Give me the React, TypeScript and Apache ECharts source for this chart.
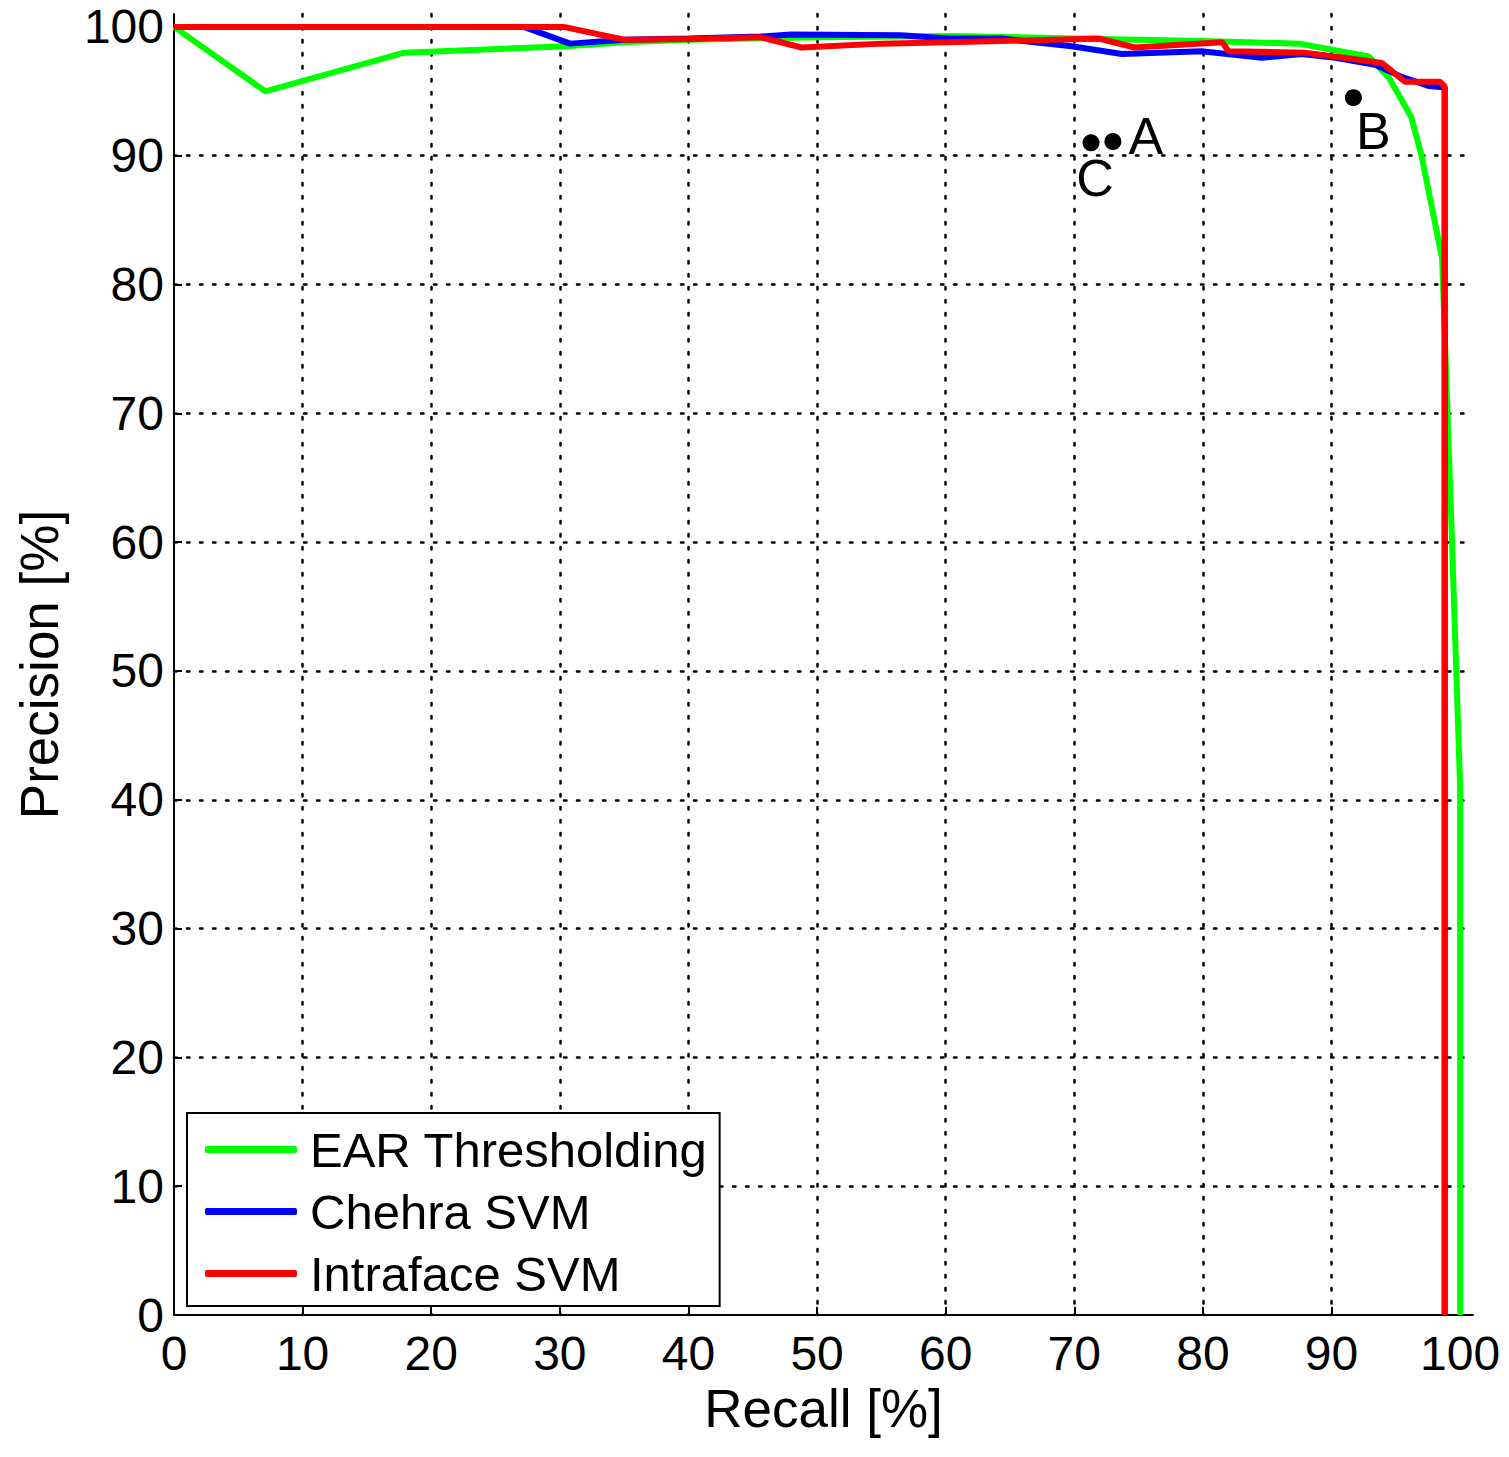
import React, { useEffect, useRef } from "react";
import * as echarts from "echarts";

const tickValues = [0, 10, 20, 30, 40, 50, 60, 70, 80, 90, 100];

const earX = [0, 7.1, 17.9, 30.5, 35, 40, 50, 60.3, 70, 80, 87.5, 92.9, 94.5, 96.2, 97.0, 98.6, 99.3, 100, 100];
const earY = [100, 95, 98, 98.5, 98.8, 99.0, 99.2, 99.3, 99.1, 98.9, 98.7, 97.7, 96.0, 93.0, 90.0, 82, 62, 41, 0];

const chehraX = [0, 27.2, 30.8, 35, 40, 45.6, 48, 56.5, 60.2, 64.3, 69.8, 73.7, 79.9, 84.6, 87.7, 90.3, 93.4, 95.5, 97.6, 98.8, 98.8];
const chehraY = [100, 100, 98.7, 99.0, 99.1, 99.25, 99.4, 99.35, 99.1, 99.1, 98.5, 97.9, 98.1, 97.6, 97.9, 97.6, 97.05, 96.1, 95.4, 95.3, 0];

const intraX = [0, 27, 30.3, 35, 40, 45.6, 48.8, 55, 64.3, 71.9, 74.7, 81.5, 82, 87.9, 91, 93.9, 95.7, 98.4, 98.8, 98.8];
const intraY = [100, 100, 100, 99.0, 99.05, 99.2, 98.4, 98.7, 98.9, 99.1, 98.4, 98.8, 98.1, 98.0, 97.6, 97.2, 95.75, 95.75, 95.4, 0];

const pointNames = ["A", "B", "C"];
const pointX = [73.0, 91.7, 71.3];
const pointY = [91.1, 94.5, 91.0];

const seriesNames = ["EAR Thresholding", "Chehra SVM", "Intraface SVM"];

const FONT = "Liberation Sans, Arial, Helvetica, sans-serif";

function pairs(xs: number[], ys: number[]) {
  return xs.map((x, i) => [x, ys[i]]);
}

export default function App() {
  const ref = useRef<HTMLDivElement>(null);
  useEffect(() => {
    document.body.style.margin = "0";
    if (!ref.current) return;
    const chart = echarts.init(ref.current, undefined, { renderer: "svg" });
    const labelOffsets: Record<string, { position: any; offset: number[] }> = {
      A: { position: "right", offset: [2, -6] },
      B: { position: "bottom", offset: [20, -6] },
      C: { position: "bottom", offset: [4, -4] },
    };
    const axisCommon = {
      type: "value",
      min: 0,
      max: 101,
      interval: 10,
      axisLine: { show: true, onZero: false, lineStyle: { color: "#000", width: 2 } },
      axisTick: { show: true, inside: true, length: 8, lineStyle: { color: "#000", width: 2 }, customValues: tickValues },
      splitLine: {
        show: true,
        showMinLine: false,
        showMaxLine: false,
        lineStyle: { color: "#000", width: 2.5, type: [2.5, 10.5], cap: "round" },
      },
      axisLabel: { color: "#000", fontSize: 48, fontFamily: FONT, customValues: tickValues },
      nameLocation: "middle",
      nameTextStyle: { color: "#000", fontSize: 53, fontFamily: FONT },
    };
    chart.setOption({
      animation: false,
      backgroundColor: "#fff",
      grid: { left: 174, top: 14, right: 36, bottom: 142, containLabel: false },
      xAxis: {
        ...axisCommon,
        name: "Recall [%]",
        nameGap: 60,
        axisLabel: { ...axisCommon.axisLabel, margin: 14 },
      },
      yAxis: {
        ...axisCommon,
        name: "Precision [%]",
        nameGap: 108,
        axisLabel: { ...axisCommon.axisLabel, margin: 10 },
      },
      legend: {
        orient: "vertical",
        left: 187,
        top: 1113,
        backgroundColor: "#fff",
        borderColor: "#000",
        borderWidth: 2,
        padding: [12, 12, 8, 18],
        itemGap: 13,
        itemWidth: 92,
        itemHeight: 7,
        icon: "roundRect",
        textStyle: { color: "#000", fontSize: 49, fontFamily: FONT, padding: [0, 0, 0, 8] },
        data: seriesNames,
        z: 10,
      },
      series: [
        {
          name: seriesNames[0],
          type: "line",
          data: pairs(earX, earY),
          showSymbol: false,
          lineStyle: { color: "#00ff00", width: 6 },
          itemStyle: { color: "#00ff00" },
          z: 2,
        },
        {
          name: seriesNames[1],
          type: "line",
          data: pairs(chehraX, chehraY),
          showSymbol: false,
          lineStyle: { color: "#0000ff", width: 6 },
          itemStyle: { color: "#0000ff" },
          z: 3,
        },
        {
          name: seriesNames[2],
          type: "line",
          data: pairs(intraX, intraY),
          showSymbol: false,
          lineStyle: { color: "#ff0000", width: 6 },
          itemStyle: { color: "#ff0000" },
          z: 4,
        },
        {
          type: "scatter",
          symbolSize: 17,
          itemStyle: { color: "#000", opacity: 1 },
          label: { show: true, color: "#000", opacity: 1, textBorderWidth: 0 },
          data: pointNames.map((n, i) => ({
            value: [pointX[i], pointY[i]],
            name: n,
            label: {
              show: true,
              formatter: n,
              position: labelOffsets[n].position,
              offset: labelOffsets[n].offset,
              color: "#000",
              opacity: 1,
              fontSize: 52,
              fontFamily: FONT,
            },
          })),
          z: 5,
        },
      ],
    });
    return () => chart.dispose();
  }, []);
  return <div ref={ref} style={{ width: 1509, height: 1457 }} />;
}
